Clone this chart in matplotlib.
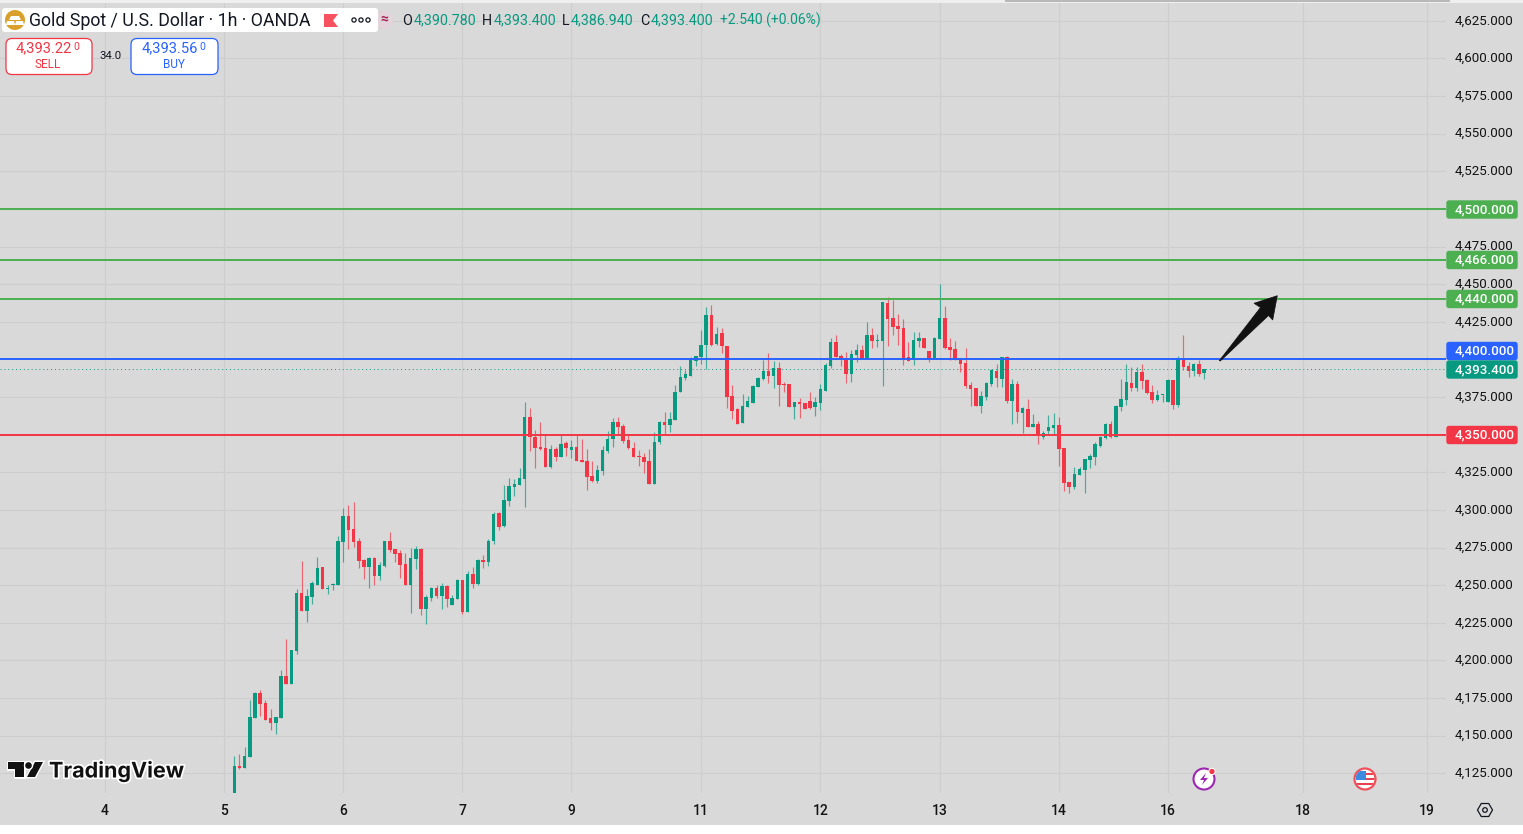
import numpy as np
import matplotlib
matplotlib.use("Agg")
import matplotlib.pyplot as plt
from matplotlib.patches import Rectangle, FancyBboxPatch, Circle, Polygon
from matplotlib.transforms import ScaledTranslation
import matplotlib.patheffects as pe

plt.rcParams['font.family'] = ['Roboto', 'DejaVu Sans']

opens = [
    4112,4129.9,4128.8,4136,4162,4178.3,4171.7,4161.7,4158.6,4162,
    4189.6,4184.5,4206.2,4244.7,4233,4242.3,4250,4261.9,4247.6,4250.4,
    4250,4278.8,4295.8,4287.2,4279.2,4266.6,4261.9,4268.1,4256,4262.8,
    4279.2,4273.9,4271.2,4263.9,4250,4267.3,4273.9,4234.1,4241.4,4248,
    4243.1,4249.3,4236.7,4240.7,4253.3,4232.5,4257.3,4250.7,4266.6,4265.3,
    4279.5,4297.8,4289.4,4305.9,4315.2,4316.8,4320.8,4361.9,4348.3,4341.9,
    4341.2,4328.8,4340.6,4335.4,4344.6,4340.1,4341.9,4333.2,4332.6,4322.3,
    4319.2,4325.9,4339.4,4347.4,4358.6,4355.9,4346.3,4341.2,4336.1,4335.2,
    4332.6,4317.4,4345.2,4358.3,4356.6,4360.1,4378.1,4387.7,4389.2,4399.2,
    4401.7,4409.4,4429.9,4410.3,4417.4,4409.2,4375.9,4367,4357.7,4368.3,
    4371.2,4381.4,4387,4392.3,4389,4394.3,4383.7,4383.7,4368.6,4371.7,
    4370.8,4372.3,4368.3,4371.2,4379.4,4395.7,4411.7,4402.3,4400.8,4390.3,
    4402.8,4406.3,4400.8,4416.3,4412.3,4412.3,4437.7,4427.7,4422.3,4421,
    4401.4,4399.4,4412.3,4414.3,4405.7,4400.8,4413.7,4427.7,4408.3,4407,
    4400.1,4397.7,4383,4381.2,4369,4375,4383.7,4392.6,4387.2,4401.9,
    4372.6,4383.9,4364.6,4367.2,4355,4357,4348.8,4352.6,4354.6,4356.6,
    4341.2,4318.6,4315.2,4323.2,4326.6,4333.2,4335.4,4342.8,4347.9,4357,
    4348.8,4368.6,4373.2,4384.6,4381.2,4391.9,4386.6,4378.6,4373.2,4376.3,
    4371.9,4386.1,4369.9,4401,4395.9,4392.6,4397.2,4390.78]
highs = [
    4136.7,4137.6,4142.3,4173.7,4179.4,4180.3,4173.7,4167.7,4162.4,4193.4,
    4214.2,4207.3,4247.8,4265.9,4247.8,4253.1,4268.6,4262.4,4250.4,4251.3,
    4282.5,4301,4303.1,4305,4281.6,4267.7,4269,4269,4265.7,4279.2,
    4285.2,4274.3,4273.5,4271.5,4275,4275.9,4275,4243.8,4248.7,4250.4,
    4251.8,4250.4,4243.8,4254,4253.8,4259.7,4262.4,4267.3,4269.9,4281,
    4298.9,4298.5,4316.6,4321,4320.6,4327.7,4371.7,4367.9,4353.2,4358.6,
    4349.9,4343,4342.1,4349.9,4345.7,4346.6,4349.9,4347.4,4340.6,4332.6,
    4329.9,4342.6,4352.6,4361,4361.9,4357.2,4349.9,4345,4339.9,4337.7,
    4340.6,4351.7,4359.2,4365.2,4365.2,4383.2,4395.9,4392.8,4401.7,4402.6,
    4419.7,4434.6,4435.9,4421.9,4420.6,4409.2,4383.2,4367.7,4377.2,4375.9,
    4382.8,4388.6,4399.7,4404.1,4399,4398.6,4385.2,4383.7,4371.9,4374.6,
    4371.2,4378.1,4374.8,4383.4,4397.4,4414.3,4416.3,4403.7,4405,4406.3,
    4410.1,4409.7,4424.6,4421,4417,4438.3,4441.4,4439.7,4430.3,4427,
    4411.7,4418.3,4418.3,4414.3,4405.7,4415,4449.9,4435.7,4414.3,4412.3,
    4400.3,4407.7,4385.2,4381.2,4379,4385.2,4393.9,4397.2,4401.9,4402.6,
    4387.2,4385.9,4368.6,4373.9,4363.7,4359.2,4352.6,4363.2,4364.6,4361.9,
    4341.2,4318.6,4328.6,4328.6,4333.9,4337.4,4345.4,4349.4,4358.1,4359.2,
    4369.9,4387.2,4397.2,4395.2,4395.2,4397.2,4387.2,4383.2,4379.9,4376.8,
    4387,4386.6,4402.6,4416.6,4398.6,4397.9,4399.9,4393.4]
lows = [
    4112,4127.9,4128.8,4136,4161.5,4163.3,4160.2,4154,4151.3,4162,
    4184.5,4184.5,4204.4,4233,4225.4,4237.6,4250,4247.3,4244,4246.7,
    4250,4265.5,4274.3,4275.2,4261.5,4254.2,4248.2,4250,4253.3,4261.9,
    4272.1,4265.5,4254.6,4250,4231.6,4260.8,4230.3,4224.3,4239.4,4241.4,
    4234.1,4235.4,4236.7,4240.7,4230.8,4232.5,4248.2,4250.4,4261.5,4262.8,
    4277.5,4286.7,4288.5,4302.8,4309.2,4316.6,4301.7,4339.4,4327.7,4339.9,
    4328.8,4328.1,4332.6,4335.4,4335.9,4334.8,4332.6,4331.9,4313.2,4318.8,
    4318.1,4323.2,4338.1,4341.9,4349.9,4344.3,4340.6,4335.2,4329.2,4324.3,
    4317,4317.4,4343.7,4349.9,4352.1,4360.1,4378.1,4386.6,4389.2,4395.4,
    4396.8,4393.9,4408.8,4409.9,4404.3,4368.1,4360.3,4357,4357.7,4368.3,
    4370.8,4381.4,4386.3,4384.6,4381.2,4369.2,4378.6,4368.6,4360.3,4361.2,
    4367,4367.4,4362.6,4366.3,4379,4394.6,4401.4,4395.7,4384.6,4385.2,
    4398.6,4400.8,4400.8,4407.7,4408.6,4382.6,4409.2,4416.3,4409.7,4396.3,
    4399,4396.3,4408.3,4407.4,4398.3,4400.8,4413.7,4406.8,4399.7,4399.4,
    4391.7,4380.8,4369.2,4369,4364.6,4373,4382.1,4381.4,4381.4,4371,
    4357.4,4358.1,4351.4,4355.4,4355,4344.1,4347.4,4349.9,4350.3,4329.4,
    4312.8,4311.4,4314.1,4323.2,4311.4,4327.9,4330.1,4341.9,4347.2,4347.9,
    4348.8,4366.1,4369.9,4379.2,4379.2,4380.6,4377.2,4371.2,4372.6,4371.9,
    4371.9,4367.2,4368.6,4393.2,4388.6,4388.8,4389.2,4386.94]
closes = [
    4129.9,4128.5,4136.3,4162.4,4178.3,4171.2,4160.6,4158.6,4162.4,4189.6,
    4184.5,4206.9,4244.7,4233,4242.7,4251.3,4261.3,4247.6,4248,4250.9,
    4279.2,4295.8,4286.7,4278.8,4266.2,4261.9,4268.1,4256,4263.3,4279.2,
    4273.2,4270.6,4263.3,4250,4267.9,4273.9,4234.1,4242,4248,4243.1,
    4249.3,4240.7,4241.4,4253.3,4231.9,4257.3,4250.7,4266.6,4265.3,4279.2,
    4297.3,4288.9,4306.6,4315.9,4317.2,4321.2,4361.9,4348.3,4341.4,4340.8,
    4328.8,4340.6,4335.4,4343.9,4341.2,4341.9,4332.8,4331.9,4321.9,4319.2,
    4326.6,4339.9,4347.2,4358.8,4355.2,4345.9,4341,4335.4,4335.4,4331.9,
    4317.2,4345,4358.6,4356.6,4360.3,4378.6,4388.3,4390.6,4400.3,4402.6,
    4409.9,4429.9,4409.4,4417.2,4408.8,4375.4,4366.1,4357.4,4369.2,4372.3,
    4382.3,4387.4,4392.3,4389,4394.3,4383,4382.8,4368.6,4371.9,4370.6,
    4367.4,4368.1,4371.7,4380.3,4396.6,4411.7,4401.4,4401.2,4390.3,4403.7,
    4406.3,4400.8,4416.3,4412.3,4413,4437.9,4427,4421.7,4420.3,4400.1,
    4399,4413,4414.3,4407.4,4400.3,4414.3,4427.9,4407.4,4406.3,4399.7,
    4397,4382.3,4380.3,4369.2,4375.7,4384.6,4393.2,4387.4,4401.9,4372.6,
    4383.9,4364.8,4367.7,4355.4,4357.2,4350.1,4351.4,4355.2,4356.6,4340.8,
    4318.1,4315.2,4323.9,4327.4,4333.9,4336.1,4344.1,4348.8,4357.4,4348.3,
    4369.4,4373.9,4385.2,4381.2,4391.9,4385.9,4377.9,4373.2,4376.3,4376.8,
    4386.6,4369.9,4401.2,4395.2,4392.6,4397.2,4390.6,4393.4]

price_ticks = list(range(4125, 4650, 25))
day_ticks = [-25, -2, 21, 44, 65, 90, 113, 136, 159, 180, 206, 230]
day_labels = ['4', '5', '6', '7', '9', '11', '12', '13', '14', '16', '18', '19']

level_prices = [4500, 4466, 4440, 4400, 4350]
level_colors = ['#4caf50', '#4caf50', '#4caf50', '#2962ff', '#f23645']
last_price = 4393.4

GREEN = '#089981'
RED = '#f23645'
BG = '#d9d9d9'
GRID = '#cdcdcd'
W, H = 1523, 834
PANE_R, PANE_B = 1446, 793

fig = plt.figure(figsize=(W / 100, H / 100), dpi=100, facecolor=BG)
ax = fig.add_axes([0, (H - PANE_B) / H, PANE_R / W, PANE_B / H], facecolor=BG)
ax.set_xlim(-45.18, 233.65)
ax.set_ylim(4111.96, 4638.87)

# candles
o, h, l, c = map(np.array, (opens, highs, lows, closes))
x = np.arange(len(o))
up = c >= o
colors = np.where(up, GREEN, RED)
ax.vlines(x, l, h, colors=colors, lw=0.85, alpha=0.7, zorder=2)
body_low = np.minimum(o, c)
body_h = np.maximum(np.abs(c - o), 0.7)
ax.bar(x, body_h, bottom=body_low, width=0.68, color=colors, linewidth=0, zorder=2.5)

# horizontal levels
for price, col in zip(level_prices, level_colors):
    ax.axhline(price, color=col, lw=1.4, zorder=3)
ax.axhline(last_price, color=GREEN, lw=0.7, ls=(0, (1, 3)), zorder=3)

# the tags cover the axis labels of the round levels, so those stay blank
tick_text = ['' if p in level_prices else '{:,.3f}'.format(p) for p in price_ticks]
ax.set_yticks(price_ticks, tick_text)
ax.set_xticks(day_ticks, day_labels)
ax.yaxis.tick_right()
ax.tick_params(axis='y', length=0, pad=6.5, labelsize=9.6, labelcolor='#131313')
ax.tick_params(axis='x', length=0, pad=8, labelsize=10, labelcolor='#131313')
label_shift = ScaledTranslation(0, 1.5 / 100, fig.dpi_scale_trans)
for lab in ax.get_yticklabels():
    lab.set_transform(lab.get_transform() + label_shift)
for lab in ax.get_xticklabels():
    lab.set_fontweight('medium')
ax.grid(True, color=GRID, lw=0.8, zorder=0)
ax.set_axisbelow(True)
for s in ax.spines.values():
    s.set_visible(False)

# overlay in pixel coordinates for the tradingview furniture
ov = fig.add_axes([0, 0, 1, 1], facecolor='none')
ov.set_xlim(0, W)
ov.set_ylim(H, 0)
ov.axis('off')

ov.add_patch(Rectangle((0, 825), W, 9, color='white', lw=0))
ov.add_patch(Rectangle((0, 0), W, 3, color='#efefef', lw=0))
ov.add_patch(Rectangle((1005, 0), 445, 2, color='#b9b9b9', lw=0))

# price tags on the right
tag_centers = [209.5, 260, 299, 351, 369.5, 435]
tag_labels = ['4,500.000', '4,466.000', '4,440.000', '4,400.000', '4,393.400', '4,350.000']
tag_colors = ['#4caf50', '#4caf50', '#4caf50', '#2962ff', GREEN, RED]
for yc, txt, col in zip(tag_centers, tag_labels, tag_colors):
    ov.add_patch(FancyBboxPatch((1447, yc - 8.5), 70, 17, boxstyle='round,pad=0,rounding_size=2',
                                fc=col, ec=col, lw=1))
    ov.text(1455, yc, txt, color='white', fontsize=9.6, fontweight='medium', ha='left', va='center')

# arrow
arrow_xy = [(1219.3, 360.7), (1260.5, 307.5), (1254, 303.3), (1277.3, 295.7),
            (1272.7, 320), (1268.5, 315.5), (1220.3, 361)]
ov.add_patch(Polygon(arrow_xy, closed=True, fc='#111111', ec='#111111', lw=0.5))

# header
ov.add_patch(FancyBboxPatch((2, 8), 376, 24, boxstyle='round,pad=0,rounding_size=3', fc='white', ec='white', lw=0))
ov.add_patch(Circle((15, 20), 10, fc='#d9a12b', ec='none'))
ov.add_patch(Polygon([(11, 16), (19, 16), (21, 20), (9, 20)], fc='white', ec='none'))
ov.add_patch(Polygon([(7, 21), (14, 21), (15, 25), (6, 25)], fc='white', ec='none'))
ov.add_patch(Polygon([(16, 21), (23, 21), (24, 25), (15, 25)], fc='white', ec='none'))
ov.text(29, 20.5, 'Gold Spot / U.S. Dollar · 1h · OANDA', fontsize=12.8, color='#131722', ha='left', va='center')
ov.add_patch(Polygon([(324, 14), (338, 14), (333, 20.5), (338, 27), (324, 27)], fc='#f7525f', ec='none'))
for dx in (354, 361, 368):
    ov.add_patch(Circle((dx, 20), 2.1, fc='none', ec='#131722', lw=0.9))
ov.add_patch(Circle((384, 20), 9, fc='#e4d3da', ec='none', zorder=0.5))
ov.text(384, 20, '≈', fontsize=10, color='#a02050', ha='center', va='center', fontweight='bold')

ohlc_labels = ['O', 'H', 'L', 'C']
ohlc_values = ['4,390.780', '4,393.400', '4,386.940', '4,393.400']
ohlc_x = [402, 482, 562, 640]
ohlc_val_x = [414, 494, 571, 651]
for t, v, xl, xv in zip(ohlc_labels, ohlc_values, ohlc_x, ohlc_val_x):
    ov.text(xl, 20.5, t, fontsize=10.3, color='#131722', ha='left', va='center')
    ov.text(xv, 20.5, v, fontsize=10.3, color=GREEN, ha='left', va='center')
ov.text(720, 20.5, '+2.540 (+0.06%)', fontsize=10, color=GREEN, ha='left', va='center')

# sell and buy
box_x = [6, 131]
box_w = [86, 87]
box_col = [RED, '#2962ff']
box_price = ['4,393.22', '4,393.56']
box_small = ['0', '0']
box_name = ['SELL', 'BUY']
box_mid = [48, 174]
for bx, bw, col, pr, sm, nm, mid in zip(box_x, box_w, box_col, box_price, box_small, box_name, box_mid):
    ov.add_patch(FancyBboxPatch((bx, 38.5), bw, 36, boxstyle='round,pad=0,rounding_size=6', fc='white', ec=col, lw=0.9))
    ov.text(mid + 24, 48, pr, fontsize=10.6, color=col, ha='right', va='center')
    ov.text(mid + 25, 46.5, sm, fontsize=7.5, color=col, ha='left', va='center')
    ov.text(mid, 64, nm, fontsize=8.5, color=col, ha='center', va='center')
ov.text(111, 56, '34.0', fontsize=8.2, color='#131722', ha='center', va='center')

# watermark
halo = [pe.withStroke(linewidth=2.5, foreground='white')]
logo_parts = [
    [(8, 762), (24, 762), (24, 777), (15.5, 777), (15.5, 769), (8, 769)],
    [(35, 762), (43, 762), (35, 777), (27, 777)],
]
for part in logo_parts:
    ov.add_patch(Polygon(part, fc='#111111', ec='none', path_effects=[pe.withStroke(linewidth=2, foreground='white')]))
ov.add_patch(Circle((28.5, 765.5), 3.3, fc='#111111', ec='none', path_effects=[pe.withStroke(linewidth=2, foreground='white')]))
ov.text(49, 771, 'TradingView', fontsize=15.5, fontweight='bold', family=['Inter', 'DejaVu Sans'],
        color='#111111', ha='left', va='center', path_effects=halo)

# lightning icon
ov.add_patch(Circle((1204, 779), 10.5, fc='white', ec='#9c27b0', lw=1.5))
ov.add_patch(Polygon([(1206, 773), (1200, 780), (1204, 780), (1202, 785), (1208, 778), (1204, 778)],
                     fc='#9c27b0', ec='none'))
ov.add_patch(Circle((1212, 771.5), 3.2, fc='#f23645', ec='white', lw=0.8))

# us flag icon
flag_ring = Circle((1365, 779), 10.5, fc='white', ec='#f0505a', lw=1.6)
ov.add_patch(flag_ring)
flag_parts = [
    Rectangle((1356, 771), 10, 9, fc='#3d8be0', ec='none'),
    Rectangle((1366, 772.5), 9, 2.4, fc='#e8404c', ec='none'),
    Rectangle((1366, 777.5), 9, 2.4, fc='#e8404c', ec='none'),
    Rectangle((1356, 782.5), 19, 2.4, fc='#e8404c', ec='none'),
]
for part in flag_parts:
    ov.add_patch(part)
    part.set_clip_path(Circle((1365, 779), 9.5, transform=ov.transData))

# settings hexagon
hex_angles = np.deg2rad(np.arange(0, 360, 60))
ov.add_patch(Polygon(np.column_stack((1485 + 7.5 * np.cos(hex_angles), 810 + 7.5 * np.sin(hex_angles))),
                     fc='none', ec='#131722', lw=0.9))
ov.add_patch(Circle((1485, 810), 2.3, fc='none', ec='#131722', lw=0.9))

fig.savefig('out.png', dpi=100, facecolor=BG)
